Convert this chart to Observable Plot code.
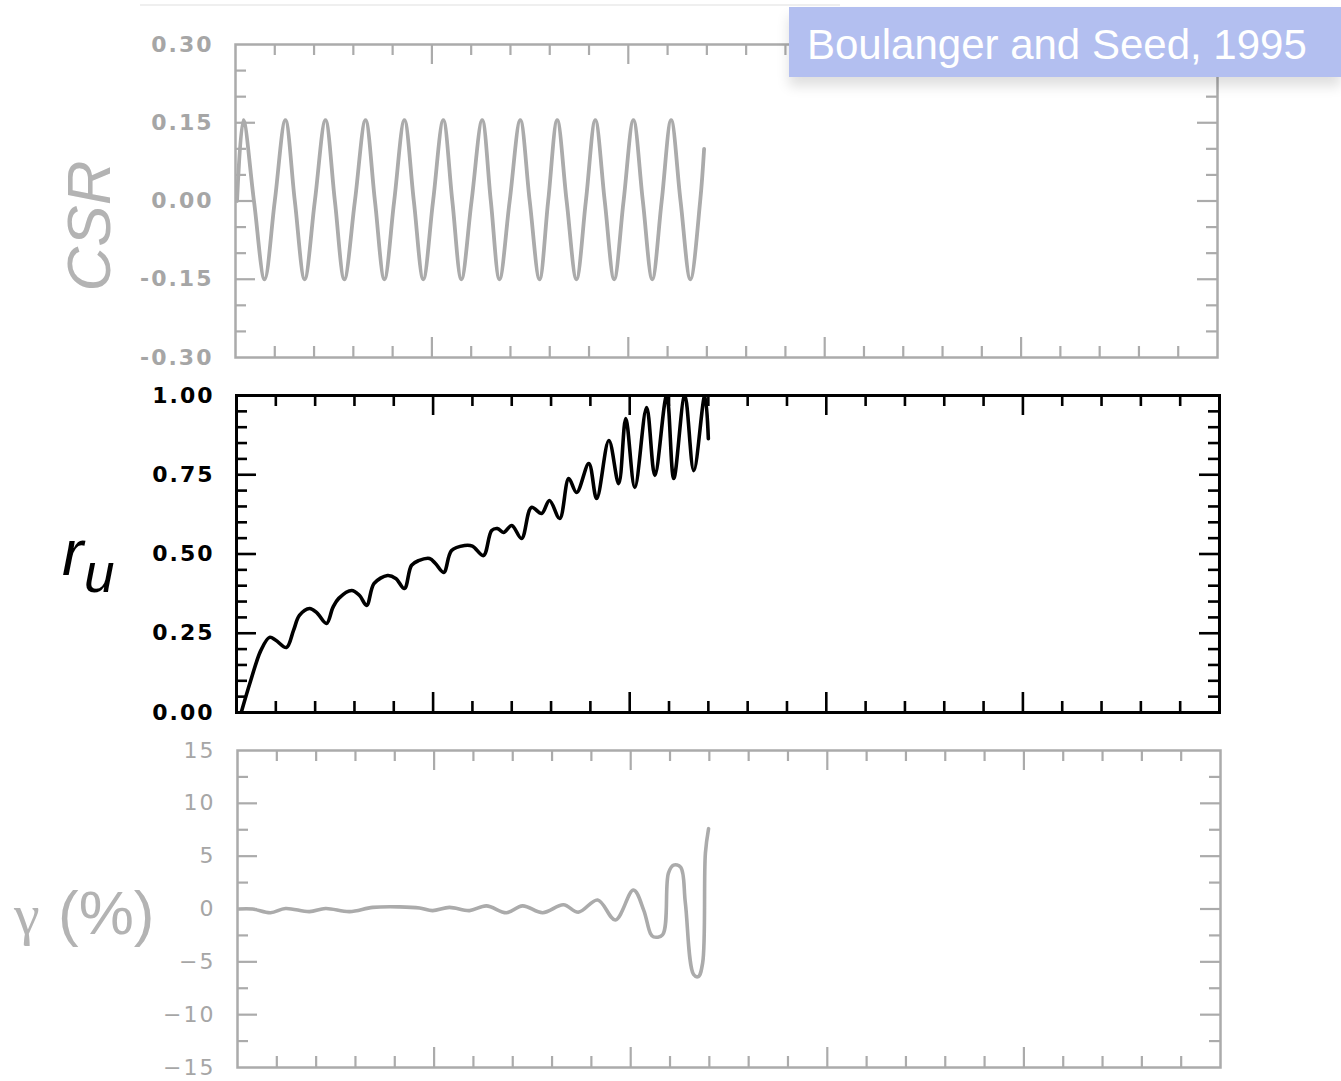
<!DOCTYPE html>
<html>
<head>
<meta charset="utf-8">
<script src="https://cdn.jsdelivr.net/npm/d3@7"></script>
<script src="https://cdn.jsdelivr.net/npm/@observablehq/plot@0.6"></script>
<style>
  html, body { margin: 0; padding: 0; background: #fff; }
  #wrap { position: relative; width: 1341px; height: 1081px; overflow: hidden; background: #fff; }
  #topline { position: absolute; left: 140px; top: 4px; width: 700px; height: 2px; background: #efefef; }
  #badge {
    position: absolute; left: 789px; top: 7px; width: 552px; height: 70px;
    background: #b3bff0; color: #fff; box-sizing: border-box; padding-left: 18px;
    font-family: "Liberation Sans", Arial, sans-serif; font-size: 42px; line-height: 76px;
    white-space: nowrap; box-shadow: 0 9px 12px rgba(0,0,0,0.13); z-index: 5;
  }
  #labels { position: absolute; left: 0; top: 0; z-index: 4; pointer-events: none; }
</style>
</head>
<body>
<div id="wrap">
  <div id="topline"></div>
</div>
<script>
// ---------- data ----------
// x: loading cycles (no labels on the x axis)
const xDomain = [0, 25];
const xMinorTicks = [1,2,3,4,6,7,8,9,11,12,13,14,16,17,18,19,21,22,23,24];
const xMajorTicks = [5,10,15,20];

// CSR panel
const csrTickLabels = [0.30, 0.15, 0.00, -0.15, -0.30];
const csrMinorTicks = [0.25, 0.20, 0.10, 0.05, -0.05, -0.10, -0.20, -0.25];
const csrMajorTicks = [0.15, 0.00, -0.15];
const csrT = [0.04, 0.20, 0.47, 0.74, 1.00, 1.27, 1.51, 1.76, 2.02, 2.29, 2.53, 2.77, 3.04, 3.31, 3.55, 3.79,
              4.04, 4.30, 4.54, 4.78, 5.03, 5.29, 5.52, 5.75, 6.01, 6.28, 6.50, 6.72, 6.98, 7.25, 7.49, 7.74,
              7.96, 8.19, 8.43, 8.68, 8.92, 9.16, 9.40, 9.64, 9.88, 10.13, 10.37, 10.61, 10.85, 11.09, 11.33,
              11.58, 11.83, 11.93];
const csrV = [0.00, 0.155, 0.00, -0.15, 0.00, 0.155, 0.00, -0.15, 0.00, 0.155, 0.00, -0.15, 0.00, 0.155, 0.00, -0.15,
              0.00, 0.155, 0.00, -0.15, 0.00, 0.155, 0.00, -0.15, 0.00, 0.155, 0.00, -0.15, 0.00, 0.155, 0.00, -0.15,
              0.00, 0.155, 0.00, -0.15, 0.00, 0.155, 0.00, -0.15, 0.00, 0.155, 0.00, -0.15, 0.00, 0.155, 0.00,
              -0.15, 0.00, 0.10];

// r_u panel
const ruTickLabels = [1.00, 0.75, 0.50, 0.25, 0.00];
const ruMinorTicks = [0.05,0.10,0.15,0.20,0.30,0.35,0.40,0.45,0.55,0.60,0.65,0.70,0.80,0.85,0.90,0.95];
const ruMajorTicks = [0.25, 0.50, 0.75];
const ruT = [0.12, 0.36, 0.62, 0.84, 1.00, 1.27, 1.45, 1.60, 1.86, 2.04, 2.29, 2.45, 2.60, 2.93, 3.13, 3.31,
             3.50, 3.84, 4.05, 4.27, 4.45, 4.63, 4.91, 5.06, 5.27, 5.47, 5.80, 6.00, 6.28, 6.49, 6.64, 6.79,
             7.00, 7.25, 7.50, 7.76, 7.96, 8.22, 8.45, 8.65, 8.96, 9.16, 9.47, 9.72, 9.90, 10.13, 10.43, 10.64,
             10.94, 11.12, 11.40, 11.63, 11.91, 12.00];
const ruV = [0.000, 0.100, 0.196, 0.237, 0.228, 0.205, 0.259, 0.306, 0.328, 0.315, 0.281, 0.331, 0.360, 0.385, 0.369, 0.338,
             0.407, 0.432, 0.423, 0.391, 0.464, 0.479, 0.486, 0.470, 0.442, 0.511, 0.527, 0.525, 0.495, 0.574, 0.580, 0.568,
             0.590, 0.549, 0.647, 0.628, 0.669, 0.612, 0.738, 0.694, 0.785, 0.675, 0.858, 0.722, 0.927, 0.710, 0.962, 0.748,
             1.000, 0.738, 1.000, 0.763, 1.000, 0.864];

// gamma panel
const gTickLabels = [15, 10, 5, 0, -5, -10, -15];
const gMinorTicks = [12.5, 7.5, 2.5, -2.5, -7.5, -12.5];
const gMajorTicks = [10, 5, 0, -5, -10];
const gT = [0.03, 0.38, 0.84, 1.22, 1.83, 2.24, 2.85, 3.44, 4.12, 4.63, 4.96, 5.39, 5.90, 6.33, 6.84, 7.25,
            7.76, 8.29, 8.67, 9.16, 9.61, 10.07, 10.33, 10.50, 10.58, 10.81, 10.96, 11.09, 11.27, 11.39, 11.60,
            11.72, 11.83, 11.90, 11.98];
const gV = [0.0, 0.0, -0.35, 0.05, -0.25, 0.05, -0.25, 0.15, 0.2, 0.1, -0.15, 0.15, -0.15, 0.3, -0.35, 0.3,
            -0.35, 0.4, -0.3, 0.85, -1.04, 1.8, -0.1, -2.3, -2.64, -2.45, 3.4, 4.15, 3.96, 0.57, -6.2,
            -6.4, -5.1, 5.3, 7.6];

// ---------- drawing ----------
const wrap = document.getElementById("wrap");
const W = 1341;
const MINOR = 11, MAJOR = 20;
const GRAY = "#ababab";

function makePanel(o) {
  const fw = o.right - o.left;
  const fh = o.frameBottom - o.frameTop;
  const data = o.T.map((t, i) => ({t, v: o.V[i]}));
  const sw = o.tickWidth;
  const plot = Plot.plot({
    width: W,
    height: fh + o.mTop + o.mBottom,
    marginLeft: o.left, marginRight: W - o.right,
    marginTop: o.mTop, marginBottom: o.mBottom,
    x: {domain: xDomain, axis: null},
    y: {domain: o.yDomain},
    style: {
      color: o.textColor, background: "transparent",
      fontFamily: "'DejaVu Sans', sans-serif", fontSize: "22px",
      fontWeight: o.weight, letterSpacing: "2px", overflow: "visible"
    },
    marks: [
      Plot.axisY({ticks: o.labels, tickSize: 0, tickPadding: 22, tickFormat: o.fmt, label: null}),
      // left & right inward ticks
      Plot.tickY(o.minor, {y: d => d, insetRight: fw - MINOR, stroke: o.color, strokeWidth: sw}),
      Plot.tickY(o.major, {y: d => d, insetRight: fw - MAJOR, stroke: o.color, strokeWidth: sw}),
      Plot.tickY(o.minor, {y: d => d, insetLeft: fw - MINOR, stroke: o.color, strokeWidth: sw}),
      Plot.tickY(o.major, {y: d => d, insetLeft: fw - MAJOR, stroke: o.color, strokeWidth: sw}),
      // bottom & top inward ticks
      Plot.tickX(xMinorTicks, {x: d => d, insetTop: fh - MINOR, stroke: o.color, strokeWidth: sw}),
      Plot.tickX(xMajorTicks, {x: d => d, insetTop: fh - MAJOR, stroke: o.color, strokeWidth: sw}),
      Plot.tickX(xMinorTicks, {x: d => d, insetBottom: fh - MINOR, stroke: o.color, strokeWidth: sw}),
      Plot.tickX(xMajorTicks, {x: d => d, insetBottom: fh - MAJOR, stroke: o.color, strokeWidth: sw}),
      Plot.frame({stroke: o.color, strokeWidth: o.frameWidth}),
      Plot.line(data, {x: "t", y: "v", curve: "catmull-rom", stroke: o.color, strokeWidth: o.lineWidth,
                       strokeLinejoin: "round", clip: true})
    ]
  });
  plot.style.position = "absolute";
  plot.style.left = "0px";
  plot.style.top = (o.frameTop - o.mTop) + "px";
  wrap.appendChild(plot);
}

makePanel({
  left: 235, right: 1217, frameTop: 44, frameBottom: 357, mTop: 30, mBottom: 10,
  yDomain: [-0.30, 0.30], labels: csrTickLabels, minor: csrMinorTicks, major: csrMajorTicks,
  fmt: d => d.toFixed(2), color: GRAY, textColor: "#a6a6a6", weight: "bold",
  T: csrT, V: csrV, tickWidth: 2.2, frameWidth: 2.5, lineWidth: 3.8
});
makePanel({
  left: 236, right: 1219, frameTop: 395, frameBottom: 712, mTop: 20, mBottom: 10,
  yDomain: [0, 1], labels: ruTickLabels, minor: ruMinorTicks, major: ruMajorTicks,
  fmt: d => d.toFixed(2), color: "#000", textColor: "#000", weight: "bold",
  T: ruT, V: ruV, tickWidth: 2.6, frameWidth: 3, lineWidth: 3.6
});
makePanel({
  left: 237, right: 1220, frameTop: 750, frameBottom: 1067, mTop: 22, mBottom: 12,
  yDomain: [-15, 15], labels: gTickLabels, minor: gMinorTicks, major: gMajorTicks,
  fmt: d => d < 0 ? "\u2212" + (-d) : String(d), color: GRAY, textColor: "#a6a6a6", weight: "normal",
  T: gT, V: gV, tickWidth: 2.2, frameWidth: 2.5, lineWidth: 3.6
});

// axis titles
const svgNS = "http://www.w3.org/2000/svg";
const lab = document.createElementNS(svgNS, "svg");
lab.setAttribute("id", "labels");
lab.setAttribute("width", W);
lab.setAttribute("height", 1081);
function addText(txt, attrs) {
  const t = document.createElementNS(svgNS, "text");
  for (const k in attrs) t.setAttribute(k, attrs[k]);
  t.textContent = txt;
  lab.appendChild(t);
  return t;
}
const F = "'Liberation Sans', Arial, sans-serif";
addText("CSR", {transform: "translate(110,226) rotate(-90)", "text-anchor": "middle",
  "font-family": F, "font-size": 62, "font-style": "italic", fill: "#b3b3b3"});
addText("r", {x: 62, y: 575, "font-family": F, "font-size": 64, "font-style": "italic", fill: "#000"});
addText("u", {x: 84, y: 592, "font-family": F, "font-size": 55, "font-style": "italic", fill: "#000"});
addText("\u03b3", {x: 14, y: 934, "font-family": "'Liberation Serif', 'DejaVu Serif', serif", "font-size": 58, fill: "#b3b3b3"});
addText("(%)", {x: 58, y: 934, "font-family": F, "font-size": 62, fill: "#b3b3b3"});
wrap.appendChild(lab);

// source badge
const badge = document.createElement("div");
badge.id = "badge";
badge.textContent = "Boulanger and Seed, 1995";
wrap.appendChild(badge);
</script>
</body>
</html>
